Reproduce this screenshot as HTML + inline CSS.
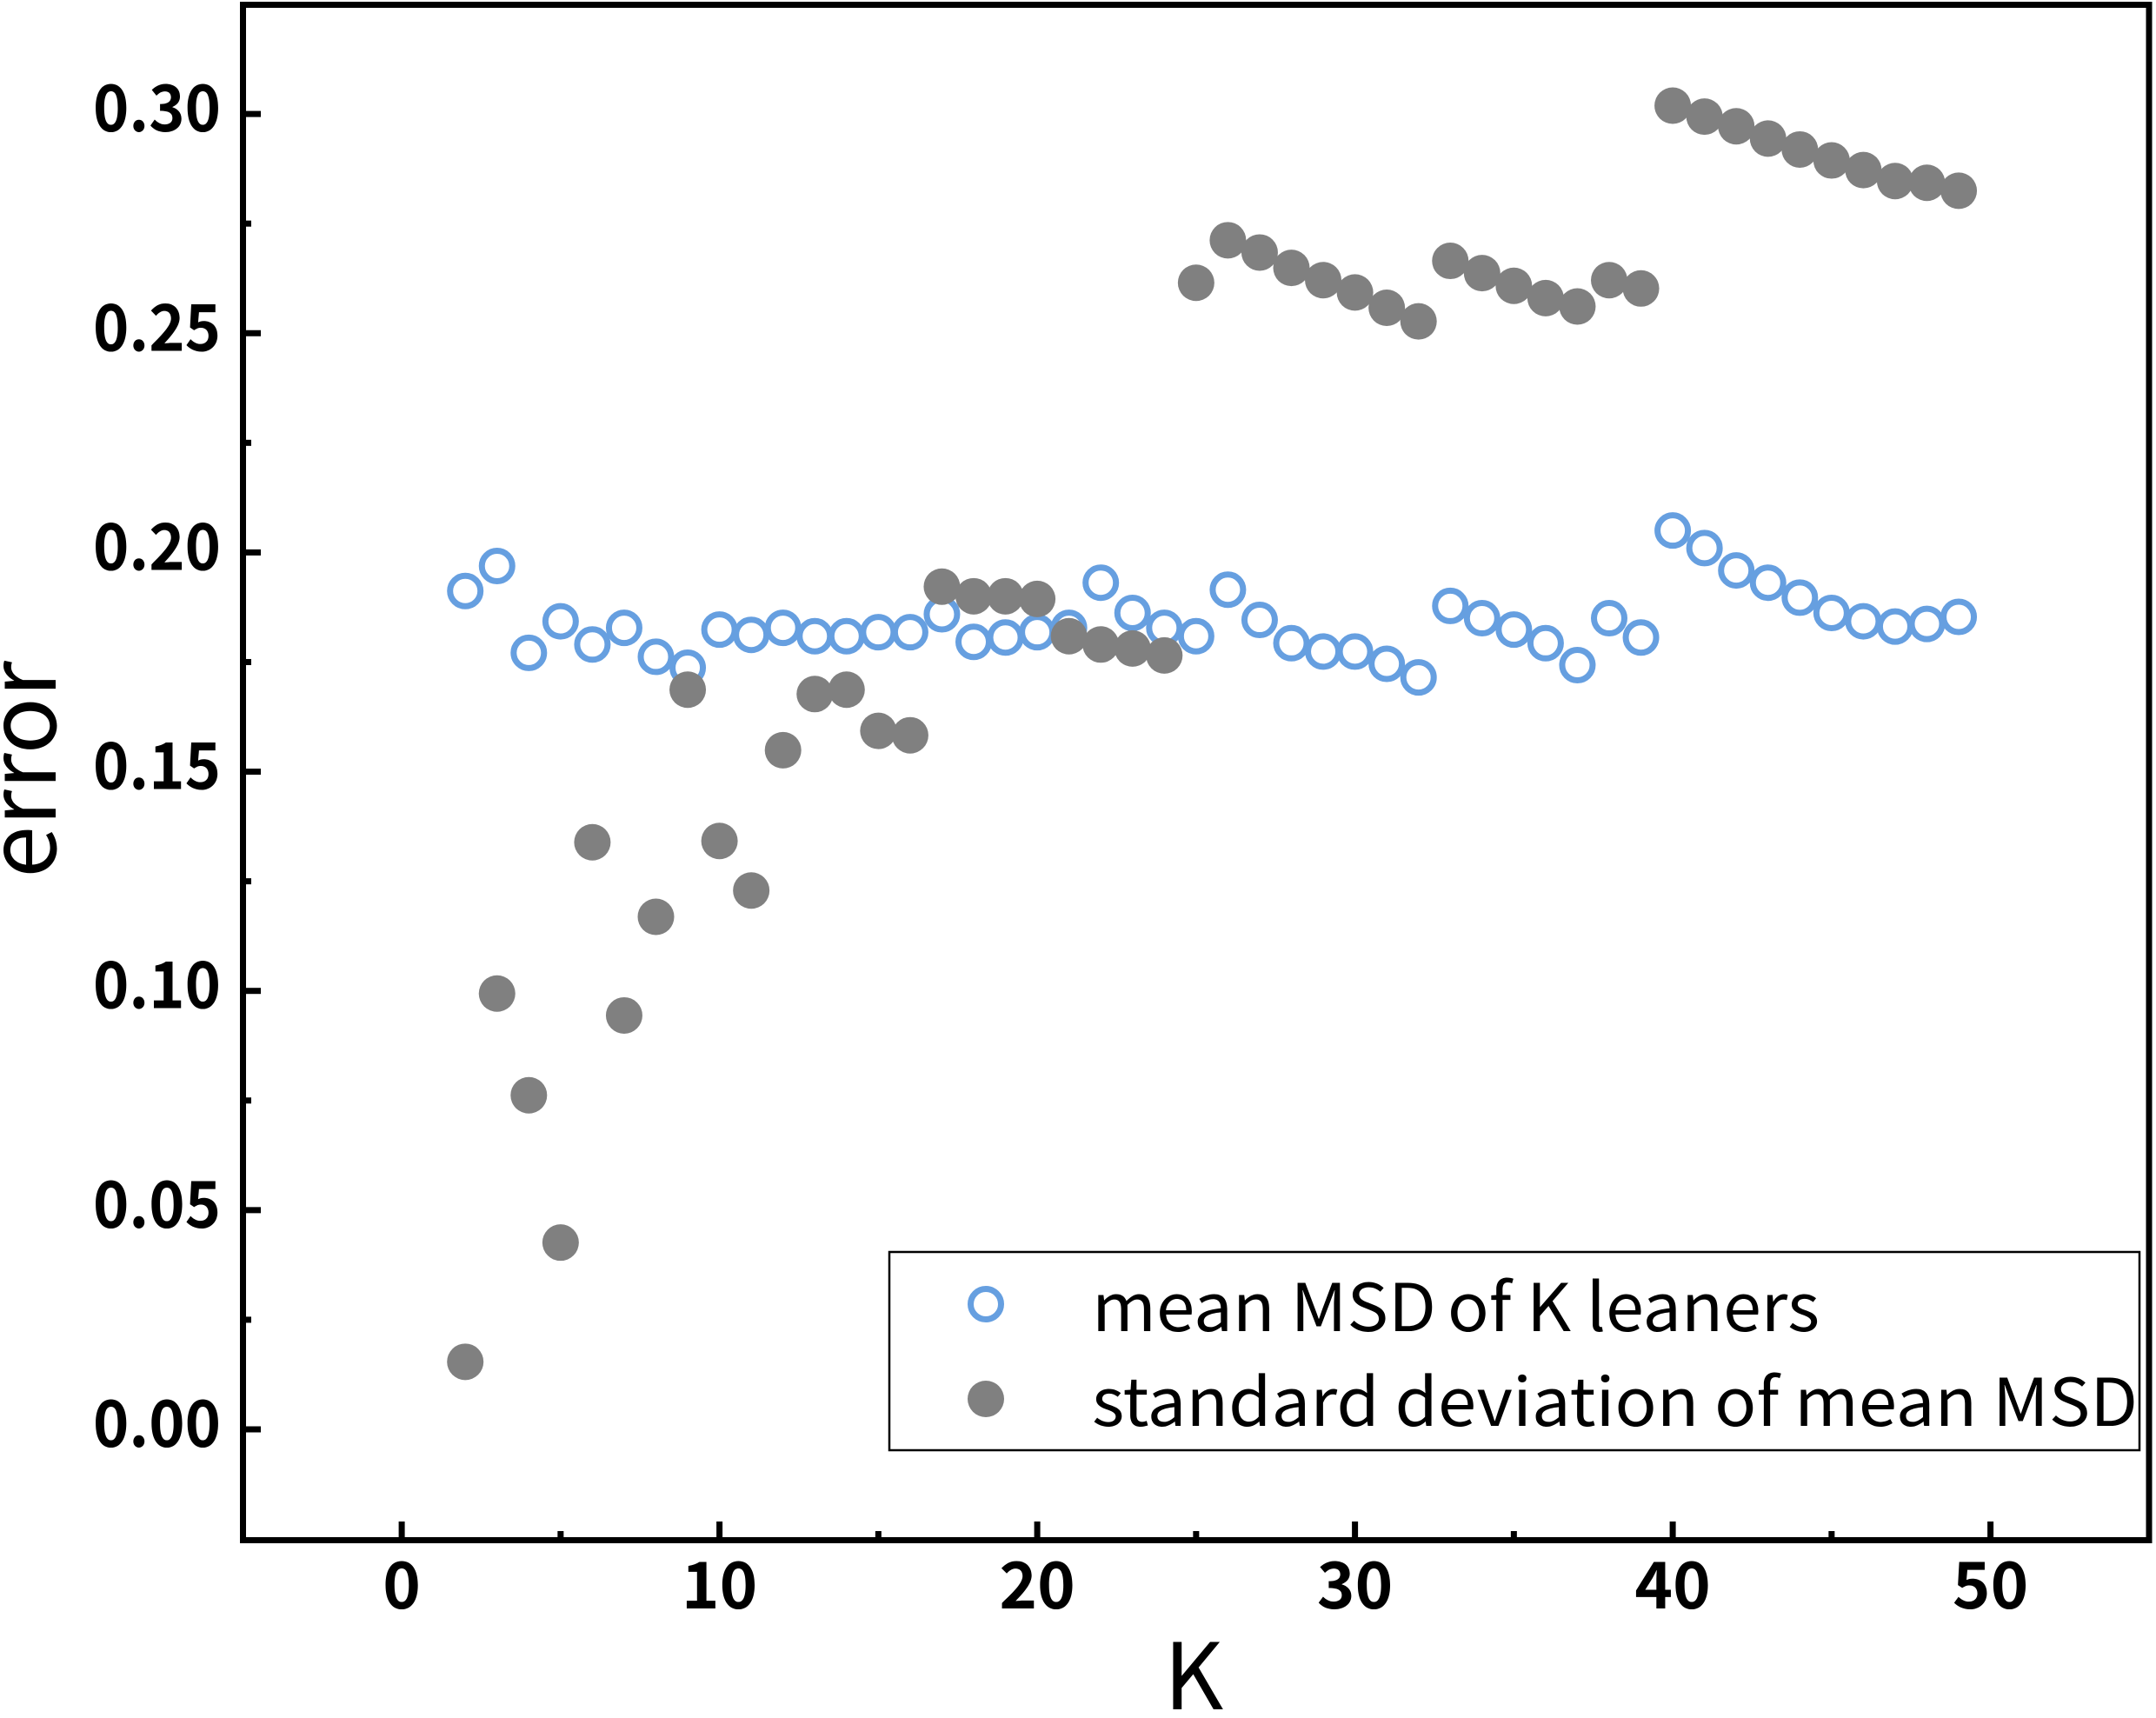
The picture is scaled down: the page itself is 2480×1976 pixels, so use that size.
<!DOCTYPE html>
<html lang="en">
<head>
<meta charset="utf-8">
<title>Error vs K</title>
<style>
html,body{margin:0;padding:0;background:#fff;}
svg{display:block;}
text{fill:#000;font-family:"Noto Sans CJK SC","Liberation Sans",sans-serif;}
.tick{font-size:74px;font-weight:700;}
.legend-text{font-size:76px;font-weight:400;}
.axis-title{font-size:104px;font-weight:400;}
</style>
</head>
<body>
<svg id="chart" xmlns="http://www.w3.org/2000/svg" width="2480" height="1976" viewBox="0 0 2480 1976">
  <rect x="279.5" y="5.5" width="2192.5" height="1766" fill="#fff" stroke="#000" stroke-width="7"/>
  <g id="ticks"></g>
  <g id="series-mean"></g>
  <g id="series-std"></g>
  <text class="axis-title" x="1373" y="1966" text-anchor="middle" style="font-size:106px">K</text>
  <text class="axis-title" transform="translate(64,885) rotate(-90)" text-anchor="middle" style="font-size:108px">error</text>
  <g>
    <rect x="1023" y="1440" width="1438" height="228" fill="#fff" stroke="#000" stroke-width="2.5"/>
    <circle cx="1134" cy="1500" r="17.5" fill="#fff" stroke="#669fe0" stroke-width="7"/>
    <circle cx="1134" cy="1609" r="21" fill="#808080"/>
    <text class="legend-text" x="1256" y="1531" textLength="396" lengthAdjust="spacingAndGlyphs">mean MSD</text>
    <text class="legend-text" x="1665" y="1531" textLength="428" lengthAdjust="spacingAndGlyphs">of K leaners</text>
    <text class="legend-text" x="1256" y="1640" textLength="1203" lengthAdjust="spacingAndGlyphs">standard deviation of mean MSD</text>
  </g>
</svg>
<script>
const kValues = [2,3,4,5,6,7,8,9,10,11,12,13,14,15,16,17,18,19,20,21,22,23,24,25,26,27,28,29,30,31,32,33,34,35,36,37,38,39,40,41,42,43,44,45,46,47,48,49];
const meanMsd = [0.1912,0.1969,0.1771,0.1843,0.1790,0.1828,0.1762,0.1737,0.1824,0.1812,0.1828,0.1809,0.1809,0.1818,0.1818,0.1859,0.1796,0.1806,0.1818,0.1828,0.1931,0.1862,0.1828,0.1809,0.1915,0.1846,0.1793,0.1774,0.1774,0.1746,0.1715,0.1878,0.1850,0.1824,0.1793,0.1743,0.1850,0.1806,0.2050,0.2010,0.1959,0.1931,0.1897,0.1862,0.1843,0.1831,0.1837,0.1853];
const stdDev = [0.0154,0.0994,0.0762,0.0426,0.1339,0.0944,0.1169,0.1687,0.1342,0.1229,0.1549,0.1677,0.1687,0.1593,0.1583,0.1922,0.1900,0.1900,0.1894,0.1809,0.1790,0.1781,0.1765,0.2615,0.2712,0.2684,0.2649,0.2621,0.2593,0.2558,0.2527,0.2665,0.2637,0.2608,0.2580,0.2561,0.2621,0.2602,0.3019,0.2994,0.2972,0.2944,0.2919,0.2894,0.2872,0.2847,0.2843,0.2825];
const xMajorTicks = [0,10,20,30,40,50];
const xMinorTicks = [5,15,25,35,45];
const yMajorTicks = [0,0.05,0.10,0.15,0.20,0.25,0.30];
const yMinorTicks = [0.025,0.075,0.125,0.175,0.225,0.275];

const SVG_NS = 'http://www.w3.org/2000/svg';
function xScale(k){ return 462.1 + k * 36.55; }
function yScale(v){ return 1644 - v * 5043; }
function make(tag, parent, attrs){
  const el = document.createElementNS(SVG_NS, tag);
  for (const key in attrs) el.setAttribute(key, attrs[key]);
  parent.appendChild(el);
  return el;
}
const tickGroup = document.getElementById('ticks');
xMajorTicks.forEach(function(t){
  const line = make('rect', tickGroup, {x: xScale(t) - 3.5, y: 1750, width: 7, height: 20, fill: '#000'});
  
  
  const label = make('text', tickGroup, {x: xScale(t), y: 1850, 'text-anchor': 'middle', 'class': 'tick'});
  
  
  label.textContent = String(t);
});
xMinorTicks.forEach(function(t){
  const line = make('rect', tickGroup, {x: xScale(t) - 3.5, y: 1761, width: 7, height: 9, fill: '#000'});
  
  
});
yMajorTicks.forEach(function(t){
  const line = make('rect', tickGroup, {x: 281, y: yScale(t) - 3.5, width: 19, height: 7, fill: '#000'});
  
  
  const label = make('text', tickGroup, {x: 107, y: yScale(t) + 20, 'class': 'tick', textLength: 147, lengthAdjust: 'spacingAndGlyphs'});
  
  
  label.textContent = t.toFixed(2);
});
yMinorTicks.forEach(function(t){
  const line = make('rect', tickGroup, {x: 281, y: yScale(t) - 3.5, width: 8, height: 7, fill: '#000'});
  
  
});
const meanGroup = document.getElementById('series-mean');
kValues.forEach(function(k, i){
  const dot = make('circle', meanGroup, {cx: xScale(k), cy: yScale(meanMsd[i]), r: 17.5, fill: 'none', stroke: '#669fe0', 'stroke-width': 7});
  
  
});
const stdGroup = document.getElementById('series-std');
kValues.forEach(function(k, i){
  const dot = make('circle', stdGroup, {cx: xScale(k), cy: yScale(stdDev[i]), r: 21, fill: '#808080'});
  
  
});
</script>
</body>
</html>
